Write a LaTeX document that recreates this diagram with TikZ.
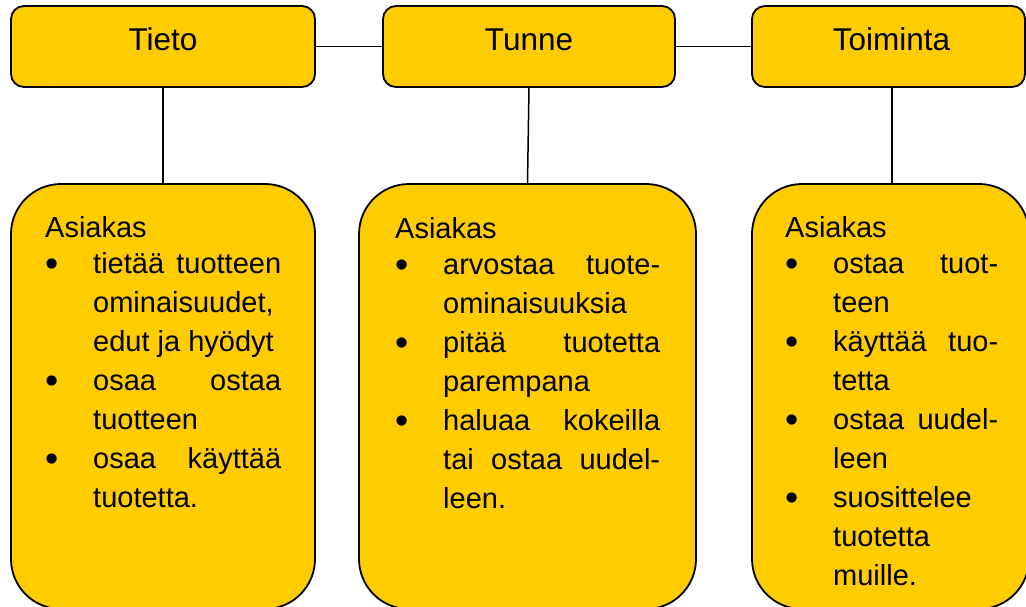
\documentclass[tikz,border=0pt]{standalone}
\usepackage{graphicx}
\usepackage{fontspec}
\setmainfont{Liberation Sans}
\definecolor{boxyellow}{HTML}{FFCC00}
\newcommand\bul{\makebox[48pt][l]{\raisebox{-3pt}{\scalebox{1.3}{\textbullet}}}}
\newcommand\ind{\hspace*{48pt}}
\newcommand\jl[2]{\makebox[#1][s]{#2}}
\begin{document}
\begin{tikzpicture}[x=1pt,y=-1pt,
  box/.style={draw=black, line width=1.8pt, fill=boxyellow, inner sep=0pt},
  topbox/.style={box, rounded corners=13pt, minimum height=81pt},
  botbox/.style={box, rounded corners=50pt, minimum height=425pt},
  conn/.style={draw=black, line width=1.5pt},
  title/.style={font=\fontsize{31.5}{36}\selectfont, inner sep=0pt, anchor=base},
  body/.style={font=\fontsize{29}{39}\selectfont, inner sep=0pt, align=left, anchor=base west}]
\useasboundingbox (0,0) rectangle (1026,606);

% top boxes
\node[topbox, minimum width=304pt] (t1) at (163,46.5) {};
\node[topbox, minimum width=292pt] (t2) at (529,46.5) {};
\node[topbox, minimum width=273pt] (t3) at (888.5,46.5) {};
\node[title] (l1) at (163,50) {Tieto};
\node[title] (l2) at (529,50) {Tunne};
\node[title] (l3) at (891.5,50) {Toiminta};

% bottom boxes
\node[botbox, minimum width=304pt] (b1) at (163,396.5) {};
\node[botbox, minimum width=337pt] (b2) at (527.5,396.5) {};
\node[botbox, minimum width=277pt] (b3) at (890.5,396.5) {};

% connectors
\draw[conn] (t1.east) -- (t2.west);
\draw[conn] (t2.east) -- (t3.west);
\draw[conn] (t1.south) -- (b1.north);
\draw[conn] (t2.south) -- (b2.north);
\draw[conn] (t3.south -| 892,0) -- (b3.north -| 892,0);

% texts (anchored at the baseline of the last line)
\node[body] (x1) at (45,507) {Asiakas\\[-3pt]
\bul\jl{188pt}{tietää tuotteen}\\
\ind ominaisuudet,\\
\ind edut ja hyödyt\\
\bul\jl{188pt}{osaa ostaa}\\
\ind tuotteen\\
\bul\jl{188pt}{osaa käyttää}\\
\ind tuotetta.};

\node[body] (x2) at (395,508) {Asiakas\\[-3pt]
\bul\jl{217pt}{arvostaa tuote-}\\
\ind ominaisuuksia\\
\bul\jl{217pt}{pitää tuotetta}\\
\ind parempana\\
\bul\jl{217pt}{haluaa kokeilla}\\
\ind\jl{217pt}{tai ostaa uudel-}\\
\ind leen.};

\node[body] (x3) at (785,585) {Asiakas\\[-3pt]
\bul\jl{165pt}{ostaa tuot-}\\
\ind teen\\
\bul\jl{165pt}{käyttää tuo-}\\
\ind tetta\\
\bul\jl{165pt}{ostaa uudel-}\\
\ind leen\\
\bul suosittelee\\
\ind tuotetta\\
\ind muille.};
\end{tikzpicture}
\end{document}
